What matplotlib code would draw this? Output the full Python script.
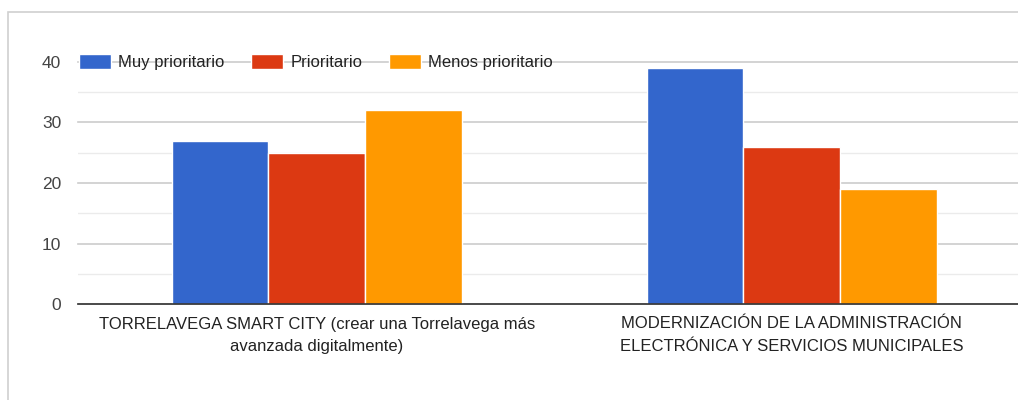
import matplotlib
matplotlib.use("Agg")
import matplotlib.pyplot as plt
from matplotlib.patches import Rectangle
import numpy as np

categories = ["TORRELAVEGA SMART CITY (crear una Torrelavega más\navanzada digitalmente)",
              "MODERNIZACIÓN DE LA ADMINISTRACIÓN\nELECTRÓNICA Y SERVICIOS MUNICIPALES"]
series_names = ["Muy prioritario", "Prioritario", "Menos prioritario"]
muy_prioritario = [27, 39]
prioritario = [25, 26]
menos_prioritario = [32, 19]
colors = ["#3366cc", "#dc3912", "#ff9900"]
yticks = [0, 10, 20, 30, 40]

plt.rcParams['font.family'] = ['Liberation Sans', 'DejaVu Sans']

fig = plt.figure(figsize=(10.18, 4.0), dpi=100)
ax = fig.add_axes([78/1018, 1-304/400, 1-78/1018, (304-62)/400])

x = np.arange(len(categories))
w = 0.204
vals = [muy_prioritario, prioritario, menos_prioritario]
for i, (name, v, c) in enumerate(zip(series_names, vals, colors)):
    ax.bar(x + (i-1)*w, v, width=w, color=c, edgecolor="white", linewidth=1.0,
           label=name, zorder=3)

ax.set_xlim(-0.503, 1.476)
ax.set_ylim(0, 40)
ax.set_yticks(yticks)
ax.set_yticks([5, 15, 25, 35], minor=True)
ax.grid(axis='y', which='major', color='#cccccc', linewidth=1.2, zorder=0, clip_on=False)
ax.grid(axis='y', which='minor', color='#ebebeb', linewidth=1.0, zorder=0)
ax.tick_params(axis='y', which='both', length=0, pad=12, labelsize=12.5, labelcolor='#444444')
ax.set_xticks(x)
ax.set_xticklabels(categories, fontsize=12, color='#222222', linespacing=1.65)
ax.tick_params(axis='x', length=0, pad=9)
for s in ['top', 'right', 'left']:
    ax.spines[s].set_visible(False)
ax.spines['bottom'].set_color('#333333')
ax.spines['bottom'].set_linewidth(1.2)
ax.spines['bottom'].set_zorder(4)
ax.set_axisbelow(True)

fs = 12
px = fs * 100 / 72
leg = ax.legend(loc='center left', bbox_to_anchor=(79/1018, 1-62/400),
                bbox_transform=fig.transFigure, ncol=3, frameon=False,
                fontsize=fs, handlelength=32/px, handleheight=16/px,
                handletextpad=7/px, columnspacing=27/px, borderpad=0,
                borderaxespad=0)
for t in leg.get_texts():
    t.set_color('#222222')

fig.patches.append(Rectangle((8/1018, -0.1), 1.2, 1.1 - 12/400,
                             transform=fig.transFigure, fill=False,
                             edgecolor='#d0d0d0', linewidth=1.2))

fig.savefig("out.png", dpi=100)
